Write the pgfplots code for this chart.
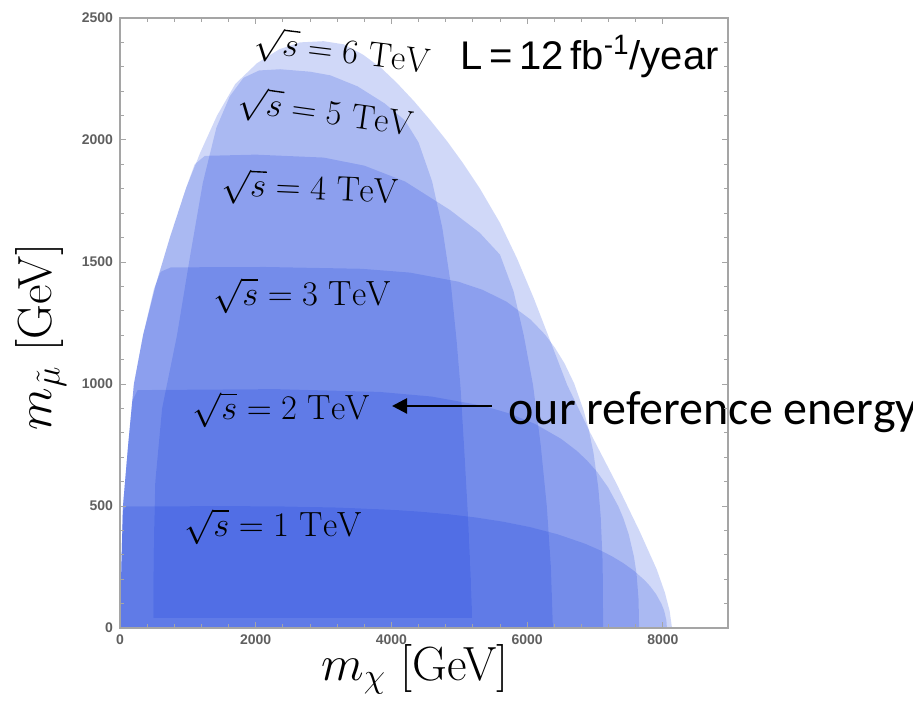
\documentclass[border=0pt]{standalone}
\usepackage{pgfplots}
\pgfplotsset{compat=1.18}
\usepackage{fontspec}
\usetikzlibrary{arrows.meta}
\newfontfamily\arial{Liberation Sans}
\newfontfamily\calibri{Carlito}
\definecolor{regblue}{RGB}{20,60,220}
\definecolor{framegray}{RGB}{165,165,165}
\definecolor{ticklab}{RGB}{95,95,95}
\begin{document}
\begin{tikzpicture}[x=1pt,y=1pt]
\useasboundingbox (-60,-39) rectangle (396.5,314);
\begin{axis}[
  at={(0,0)}, anchor=south west, scale only axis,
  width=304pt, height=305pt,
  xmin=0, xmax=8960, ymin=0, ymax=2500,
  xtick={0,2000,4000,6000,8000}, ytick={0,500,1000,1500,2000,2500},
  minor x tick num=4, minor y tick num=4,
  tick align=inside, major tick length=3pt, minor tick length=1.8pt,
  axis line style={framegray, line width=0.7pt},
  every tick/.style={framegray, line width=0.5pt},
  scaled x ticks=false, scaled y ticks=false,
  /pgf/number format/assume math mode=true,
  /pgf/number format/set thousands separator={},
  ticklabel style={font=\arial\bfseries\fontsize{7}{8}\selectfont, text=ticklab},
  xlabel={$m_\chi$ [GeV]}, ylabel={$m_{\tilde\mu}$ [GeV]},
  xlabel style={at={(axis description cs:0.485,-0.068)}, anchor=center, font=\fontsize{24}{26}\selectfont},
  ylabel style={at={(axis description cs:-0.13,0.477)}, anchor=center, rotate=0, font=\fontsize{24}{26}\selectfont},
  clip=false, axis on top,
]
% sqrt(s)=6 TeV : outer envelope
\addplot[draw=none, fill=regblue, fill opacity=0.2] coordinates {
(0,0) (20,250) (44,500) (120,750) (205,1000) (340,1200) (520,1400) (735,1600) (970,1800) (1185,1950) (1430,2100) (1700,2230) (2020,2315) (2350,2372) (2650,2400) (3000,2405) (3300,2392) (3580,2350) (3850,2295) (4080,2234) (4330,2160) (4570,2082) (4820,1995) (5055,1905) (5306,1800) (5600,1660) (5850,1515) (6100,1350) (6350,1170) (6590,996) (6930,800) (7320,590) (7660,395) (7910,240) (8030,145) (8100,70) (8135,0)
} -- cycle;
% 5 TeV
\addplot[draw=none, fill=regblue, fill opacity=0.2] coordinates {
(490,40) (495,300) (520,600) (620,900) (840,1200) (1030,1520) (1220,1824) (1420,2050) (1620,2180) (1820,2255) (2050,2285) (2360,2290) (2800,2280) (3100,2265) (3500,2220) (3900,2150) (4200,2080) (4400,1990) (4600,1830) (4750,1640) (4880,1400) (4960,1180) (5020,980) (5080,700) (5130,450) (5170,200) (5190,40)
} -- cycle;
% 4 TeV
\addplot[draw=none, fill=regblue, fill opacity=0.2] coordinates {
(0,0) (20,250) (44,500) (120,750) (205,1000) (340,1200) (520,1400) (735,1600) (970,1800) (1100,1900) (1250,1935) (2000,1940) (3000,1928) (3600,1895) (4200,1830) (4864,1713) (5300,1620) (5600,1530) (5800,1380) (5950,1200) (6087,996) (6200,750) (6290,500) (6350,250) (6380,0)
} -- cycle;
% 3 TeV
\addplot[draw=none, fill=regblue, fill opacity=0.2] coordinates {
(0,0) (20,250) (44,500) (120,750) (205,1000) (340,1200) (500,1390) (600,1460) (750,1478) (2136,1479.6) (3560,1472.2) (4272,1456.6) (4984,1419.5) (5340,1386.3) (5696,1337.5) (6052,1263.8) (6266,1201.8) (6408,1149.0) (6550,1084.8) (6693,1002.1) (6835,889.6) (6906,815.0) (6978,718.0) (7049,574.5) (7084,458.0) (7113,269) (7120,0)
} -- cycle;
% 2 TeV
\addplot[draw=none, fill=regblue, fill opacity=0.2] coordinates {
(0,0) (20,250) (44,500) (120,750) (180,930) (260,975) (2295,979.0) (3825,967.6) (4590,948.8) (5355,910.4) (5738,879.3) (6120,836.0) (6503,774.8) (6732,726.0) (6885,685.8) (7038,637.3) (7191,577.2) (7344,498.7) (7421,447.9) (7497,384.2) (7574,292.8) (7612,223.5) (7642,117.7) (7650,0)
} -- cycle;
% 1 TeV
\addplot[draw=none, fill=regblue, fill opacity=0.2] coordinates {
(0,0) (20,250) (40,480) (90,498) (1612,499.6) (2418,498.0) (3224,493.6) (4030,484.1) (4433,476.6) (4836,466.5) (5239,453.2) (5642,435.9) (6045,413.4) (6448,384.2) (6851,345.7) (7093,316.4) (7254,293.2) (7415,266.3) (7576,234.1) (7738,194.1) (7818,169.3) (7899,139.3) (7979,99.2) (8020,70.5) (8052,31.6) (8060,0)
} -- cycle;
% labels
\node[rotate=-7, font=\fontsize{17.5}{20}\selectfont, inner sep=1pt] at (axis cs:3272,2355) {$\sqrt{s}=6\ \mathrm{TeV}$};
\node[rotate=-8, font=\fontsize{17.5}{20}\selectfont] at (axis cs:3030,2105) {$\sqrt{s}=5\ \mathrm{TeV}$};
\node[rotate=-2.5, font=\fontsize{17.5}{20}\selectfont] at (axis cs:2800,1795) {$\sqrt{s}=4\ \mathrm{TeV}$};
\node[font=\fontsize{17.5}{20}\selectfont] at (axis cs:2682,1361) {$\sqrt{s}=3\ \mathrm{TeV}$};
\node[font=\fontsize{17.5}{20}\selectfont] at (axis cs:2373,893) {$\sqrt{s}=2\ \mathrm{TeV}$};
\node[font=\fontsize{17.5}{20}\selectfont] at (axis cs:2255,414) {$\sqrt{s}=1\ \mathrm{TeV}$};
\node[anchor=base west, font=\arial\fontsize{20}{24}\selectfont, inner sep=0pt] at (axis cs:5010,2290) {L\,=\,12\,fb\textsuperscript{-1}/year};
\draw[line width=1.3pt, -{Triangle[length=7.5pt, width=7.5pt]}] (axis cs:5483,910) -- (axis cs:4009,910);
\node[anchor=base west, font=\calibri\fontsize{24}{28}\selectfont, inner sep=0pt] at (axis cs:5720,832) {our reference energy};
\end{axis}
\end{tikzpicture}
\end{document}
